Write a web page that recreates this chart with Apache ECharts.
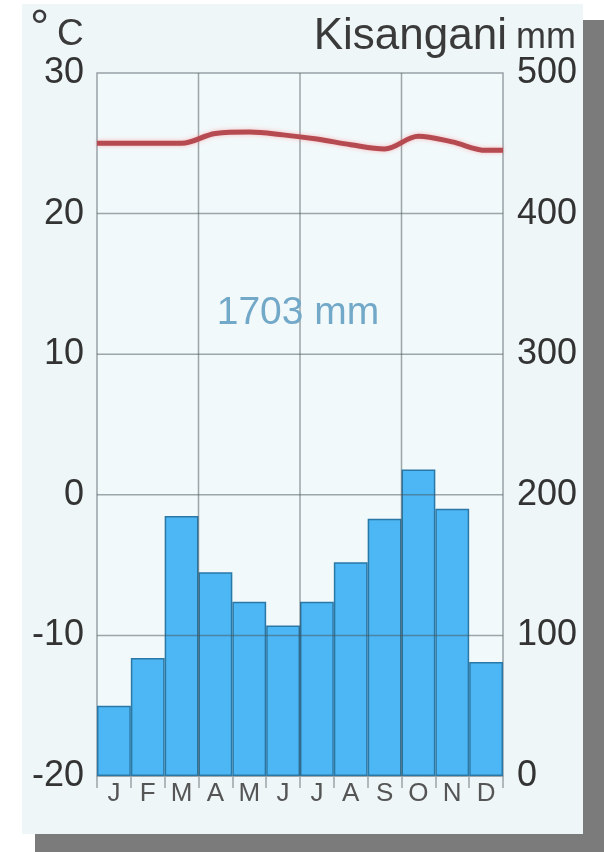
<!DOCTYPE html>
<html>
<head>
<meta charset="utf-8">
<script src="https://cdn.jsdelivr.net/npm/echarts@6/dist/echarts.min.js"></script>
<style>
html,body{margin:0;padding:0;background:#ffffff;}
#c{width:604px;height:852px;}
</style>
</head>
<body>
<div id="c"></div>
<script>
const months = ['J','F','M','A','M','J','J','A','S','O','N','D'];
const precipitation = [50, 84, 185, 145, 124, 107, 124, 152, 183, 218, 190, 81];
const temperature = [25.0, 25.0, 25.0, 25.7, 25.8, 25.6, 25.3, 24.9, 24.6, 25.5, 25.1, 24.5];
const tempTicks = [-20, -10, 0, 10, 20, 30];
const precipTicks = [0, 100, 200, 300, 400, 500];
const seasonBreaks = [3, 6, 9];
const stationName = 'Kisangani';
const annualTotal = '1703 mm';

// line points at month centres, held flat to the plot edges
const linePts = [[0, temperature[0]]]
  .concat(temperature.map((t, i) => [i + 0.5, t]))
  .concat([[12, temperature[11]]]);

const chart = echarts.init(document.getElementById('c'), null, {renderer: 'canvas'});
const font = '"Liberation Sans", Arial, sans-serif';
const borderColor = '#98a3a6';
const gridLineColor = 'rgba(70,85,92,0.5)';
const tMin = tempTicks[0], tMax = tempTicks[tempTicks.length - 1];

// grid lines drawn as series so they sit above the bars
const gridSeries = tempTicks.slice(1, -1).map(v => [[0, v], [12, v]])
  .concat(seasonBreaks.map(m => [[m, tMin], [m, tMax]]))
  .map(pts => ({
    type: 'line', xAxisIndex: 1, yAxisIndex: 0, data: pts, z: 5,
    symbol: 'none', silent: true, animation: false,
    lineStyle: {color: gridLineColor, width: 1.5}
  }));

chart.setOption({
  animation: false,
  backgroundColor: '#ffffff',
  graphic: [
    {type: 'rect', z: -10, shape: {x: 35, y: 20, width: 569, height: 832}, style: {fill: '#7b7b7b'}},
    {type: 'rect', z: -9, shape: {x: 22, y: 4, width: 561, height: 830}, style: {fill: '#eef6f8'}},
    {type: 'text', z: 10, x: 30, y: 6, style: {text: '°', font: '48px ' + font, fill: '#3a3a3a'}},
    {type: 'text', z: 10, x: 57, y: 16, style: {text: 'C', font: '37px ' + font, fill: '#3a3a3a'}},
    {type: 'text', z: 10, x: 507, y: 15, style: {text: stationName, font: '44px ' + font, fill: '#3a3a3a', align: 'right', verticalAlign: 'top'}},
    {type: 'text', z: 10, x: 516, y: 20, style: {text: 'mm', font: '36px ' + font, fill: '#3a3a3a', align: 'left', verticalAlign: 'top'}},
    {type: 'text', z: 10, x: 298, y: 313, style: {text: annualTotal, font: '39px ' + font, fill: '#72a8c8', align: 'center', verticalAlign: 'middle'}}
  ],
  grid: {left: 97, top: 73, width: 406, height: 703, show: true, borderColor: borderColor, borderWidth: 1.5, backgroundColor: '#f2f9fa'},
  xAxis: [
    {
      type: 'category', data: months, boundaryGap: true,
      axisLine: {show: true, onZero: false, lineStyle: {color: borderColor, width: 1.5}},
      axisTick: {show: true, interval: 0, length: 12, lineStyle: {color: '#9aa4a6', width: 1.5}},
      axisLabel: {interval: 0, margin: 5, fontSize: 26, fontFamily: font, color: '#555'},
      splitLine: {show: false}
    },
    {type: 'value', min: 0, max: 12, show: false}
  ],
  yAxis: [
    {
      type: 'value', min: tMin, max: tMax, interval: 10, position: 'left',
      axisLine: {show: false}, axisTick: {show: false},
      axisLabel: {fontSize: 36, fontFamily: font, color: '#333', margin: 13,
        formatter: (v) => tempTicks.includes(v) ? String(v) : ''},
      splitLine: {show: false}
    },
    {
      type: 'value', min: 0, max: 500, interval: 100, position: 'right',
      axisLine: {show: false}, axisTick: {show: false},
      axisLabel: {fontSize: 36, fontFamily: font, color: '#333', margin: 14,
        formatter: (v) => precipTicks.includes(v) ? String(v) : ''},
      splitLine: {show: false}
    }
  ],
  series: [
    {
      type: 'bar', xAxisIndex: 0, yAxisIndex: 1, data: precipitation, z: 2,
      barCategoryGap: '0%', barGap: '0%',
      itemStyle: {color: '#4db6f4', borderColor: '#2a78a6', borderWidth: 1.5}
    }
  ].concat(gridSeries).concat([
    {
      type: 'line', xAxisIndex: 1, yAxisIndex: 0, data: linePts, z: 10,
      smooth: 0.35, symbol: 'none',
      lineStyle: {color: '#b54a50', width: 5, shadowColor: 'rgba(255,120,130,0.5)', shadowBlur: 4}
    }
  ])
});
</script>
</body>
</html>
